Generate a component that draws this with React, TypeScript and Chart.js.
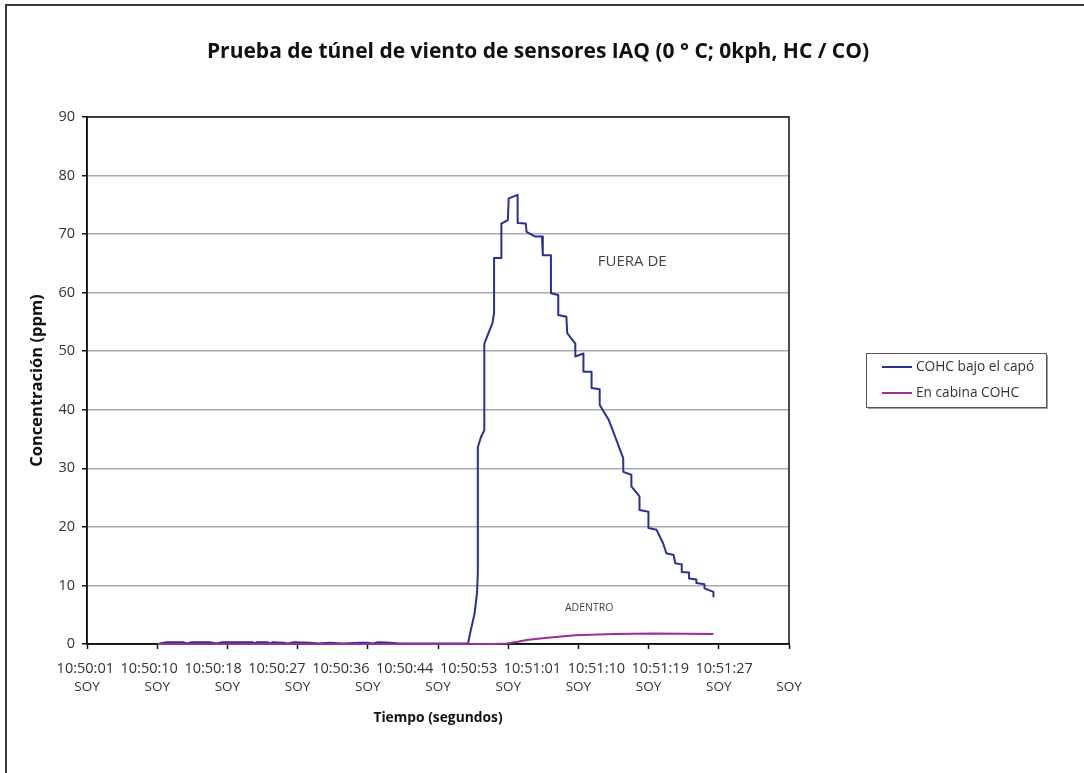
import React, { useEffect, useRef } from "react";
import { Chart, registerables } from "chart.js";

Chart.register(...registerables);

// Seconds elapsed since 10:50:01 and the tick labels shown under the axis
const tickSeconds = [0, 8.64, 17.28, 25.92, 34.56, 43.2, 51.84, 60.48, 69.12, 77.76, 86.4];
const tickTimes = [
  "10:50:01", "10:50:10", "10:50:18", "10:50:27", "10:50:36", "10:50:44",
  "10:50:53", "10:51:01", "10:51:10", "10:51:19", "10:51:27",
];
const tickSuffix = "SOY";

// COHC under the hood (ppm)
const underHoodSeconds = [
  8.7, 9.8, 11.8, 12.3, 12.9, 15.1, 15.9, 16.7, 20.4, 20.6, 20.9, 22.2, 22.5, 22.9, 24.1, 24.8,
  25.4, 27.4, 28.5, 29.9, 31.5, 33.6, 34.5, 35.2, 35.8, 37.3, 38.5, 42.0, 45.0, 46.9,
  47.1, 47.7, 48.0, 48.1, 48.1, 48.1, 48.5, 48.9, 48.9, 49.9, 50.1, 50.1, 51.0, 51.0, 51.8, 51.9,
  53.0, 53.0, 54.0, 54.1, 55.1, 56.0, 56.1, 57.1, 57.1, 58.0, 58.0, 59.0, 59.1, 60.1, 60.1, 61.1,
  61.1, 62.1, 62.1, 63.1, 63.1, 64.2, 65.0, 66.0, 66.0, 67.0, 67.0, 68.0, 68.0, 69.1, 69.1, 70.1,
  70.9, 71.3, 72.2, 72.4, 73.2, 73.2, 74.1, 74.1, 75.0, 75.0, 76.0, 76.0, 77.1, 77.1,
];
const underHoodPpm = [
  0, 0.3, 0.3, 0.1, 0.3, 0.3, 0.1, 0.3, 0.3, 0.1, 0.3, 0.3, 0.1, 0.3, 0.2, 0.1,
  0.3, 0.2, 0.1, 0.2, 0.1, 0.2, 0.2, 0.1, 0.3, 0.2, 0.1, 0.1, 0.1, 0.1,
  1.5, 5.2, 8.7, 12.1, 14.3, 33.6, 35.4, 36.5, 51.3, 54.8, 56.5, 65.9, 65.9, 71.8, 72.4, 76.1,
  76.7, 71.9, 71.8, 70.4, 69.6, 69.6, 66.4, 66.4, 59.9, 59.6, 56.2, 55.9, 53.1, 51.3, 49.1, 49.6,
  46.5, 46.5, 43.7, 43.5, 40.8, 38.3, 35.4, 31.7, 29.4, 28.9, 26.9, 25.2, 22.9, 22.6, 19.8, 19.5,
  17.2, 15.5, 15.2, 13.8, 13.6, 12.3, 12.2, 11.2, 11.0, 10.4, 10.2, 9.5, 8.9, 8.1,
];

// COHC inside the cabin (ppm)
const cabinSeconds = [8.7, 50.0, 51.7, 53.0, 54.1, 55.5, 57.0, 60.1, 64.8, 69.7, 77.1];
const cabinPpm = [0, 0, 0.1, 0.4, 0.7, 0.9, 1.1, 1.5, 1.7, 1.8, 1.7];

const seriesNames = ["COHC bajo el capó", "En cabina COHC"];
const seriesColors = ["#2b2f96", "#9a2f98"];

const FONT = "'Open Sans', 'Noto Sans', sans-serif";

const toPoints = (xs: number[], ys: number[]) => xs.map((x, i) => ({ x, y: ys[i] }));

// Outer frame, white page, and the black box around the plot area
const framePlugin = {
  id: "frame",
  beforeDraw(chart: any) {
    const { ctx, width, height } = chart;
    ctx.save();
    ctx.fillStyle = "#ffffff";
    ctx.fillRect(0, 0, width, height);
    ctx.fillStyle = "#3a3a3a";
    ctx.fillRect(5, 4, width - 5, 2);
    ctx.fillRect(5, 4, 2, height - 4);
    ctx.restore();
  },
  beforeDatasetsDraw(chart: any) {
    const { ctx, chartArea: a } = chart;
    ctx.save();
    ctx.strokeStyle = "#111";
    ctx.lineWidth = 1.5;
    ctx.strokeRect(a.left, a.top, a.right - a.left, a.bottom - a.top);
    ctx.restore();
  },
};

// Title, time row of the x axis, in-plot notes and the boxed legend
const textPlugin = {
  id: "texts",
  afterDraw(chart: any) {
    const { ctx } = chart;
    const xs = chart.scales.x;
    const ys = chart.scales.y;
    ctx.save();
    ctx.fillStyle = "#111";
    ctx.textAlign = "center";
    ctx.textBaseline = "middle";
    ctx.font = `bold 21px ${FONT}`;
    ctx.fillText("Prueba de túnel de viento de sensores IAQ (0 ° C; 0kph, HC / CO)", 538, 52);

    // time labels, packed a little tighter than the tick spacing
    ctx.fillStyle = "#333";
    ctx.font = `14.5px ${FONT}`;
    const step = ((xs.right - xs.left) * 0.91) / (tickTimes.length - 1);
    tickTimes.forEach((t, i) => {
      ctx.fillText(t, xs.left - 1.7 + i * step, 669);
    });

    ctx.fillStyle = "#444";
    ctx.font = `15px ${FONT}`;
    ctx.fillText("FUERA DE", xs.getPixelForValue(67.1), ys.getPixelForValue(65.2));
    ctx.font = `10.5px ${FONT}`;
    ctx.fillText("ADENTRO", xs.getPixelForValue(61.8), ys.getPixelForValue(6.1));

    // legend box
    const bx = 866, by = 353, bw = 180, bh = 54;
    ctx.fillStyle = "#a0a0a0";
    ctx.fillRect(bx + 2, by + bh, bw, 2);
    ctx.fillRect(bx + bw, by + 2, 2, bh);
    ctx.strokeStyle = "#555";
    ctx.lineWidth = 1;
    ctx.strokeRect(bx + 0.5, by + 0.5, bw, bh);
    ctx.textAlign = "left";
    ctx.font = `13.7px ${FONT}`;
    seriesNames.forEach((name, i) => {
      const ly = by + 14 + i * 26;
      ctx.strokeStyle = seriesColors[i];
      ctx.lineWidth = 2;
      ctx.beginPath();
      ctx.moveTo(882, ly);
      ctx.lineTo(912, ly);
      ctx.stroke();
      ctx.fillStyle = "#333";
      ctx.fillText(name, 916, ly);
    });
    ctx.restore();
  },
};

export default function App() {
  const canvasRef = useRef<HTMLCanvasElement | null>(null);

  useEffect(() => {
    const canvas = canvasRef.current;
    if (!canvas) return;
    const chart = new Chart(canvas, {
      type: "line",
      data: {
        datasets: [
          {
            label: seriesNames[0],
            data: toPoints(underHoodSeconds, underHoodPpm),
            borderColor: seriesColors[0],
            backgroundColor: seriesColors[0],
            borderWidth: 2,
            pointRadius: 0,
            tension: 0,
            borderJoinStyle: "round",
            clip: 4,
            order: 1,
          },
          {
            label: seriesNames[1],
            data: toPoints(cabinSeconds, cabinPpm),
            borderColor: seriesColors[1],
            backgroundColor: seriesColors[1],
            borderWidth: 2,
            pointRadius: 0,
            tension: 0,
            clip: 4,
            order: 0,
          },
        ],
      },
      options: {
        responsive: false,
        animation: false,
        devicePixelRatio: 1,
        layout: { padding: { top: 117, right: 295, bottom: 0, left: 0 } },
        plugins: {
          legend: { display: false },
          title: { display: false },
          tooltip: { enabled: false },
        },
        scales: {
          x: {
            type: "linear",
            min: 0,
            max: 86.4,
            afterFit: (s: any) => {
              s.height = 129;
            },
            afterBuildTicks: (s: any) => {
              s.ticks = tickSeconds.map((v) => ({ value: v }));
            },
            grid: {
              drawOnChartArea: false,
              drawTicks: true,
              tickLength: 5,
              tickColor: "#111",
              tickWidth: 1.5,
            },
            border: { display: true, color: "#111", width: 1.5 },
            ticks: {
              autoSkip: false,
              maxRotation: 0,
              padding: 30,
              color: "#333",
              font: { family: FONT, size: 13.5, lineHeight: 1.2 },
              callback: () => tickSuffix,
            },
            title: {
              display: true,
              text: "Tiempo (segundos)",
              color: "#111",
              font: { family: FONT, size: 13.8, weight: "bold" },
              padding: { top: 0, bottom: 47 },
            },
          },
          y: {
            min: 0,
            max: 90,
            afterFit: (s: any) => {
              s.width = 87;
            },
            grid: {
              color: "#ababab",
              lineWidth: 1.5,
              tickLength: 5,
              tickColor: "#111",
              tickWidth: 1.5,
            },
            border: { display: true, color: "#111", width: 1.5 },
            ticks: {
              stepSize: 10,
              padding: 7,
              color: "#333",
              font: { family: FONT, size: 14.5 },
            },
            title: {
              display: true,
              text: "Concentración (ppm)",
              color: "#111",
              font: { family: FONT, size: 16.5, weight: "bold" },
              padding: { top: 27, bottom: 0 },
            },
          },
        },
      },
      plugins: [framePlugin, textPlugin],
    });
    return () => chart.destroy();
  }, []);

  return (
    <div style={{ position: "fixed", left: 0, top: 0, width: 1084, height: 773, background: "#fff" }}>
      <canvas ref={canvasRef} width={1084} height={773} style={{ display: "block" }} />
    </div>
  );
}
